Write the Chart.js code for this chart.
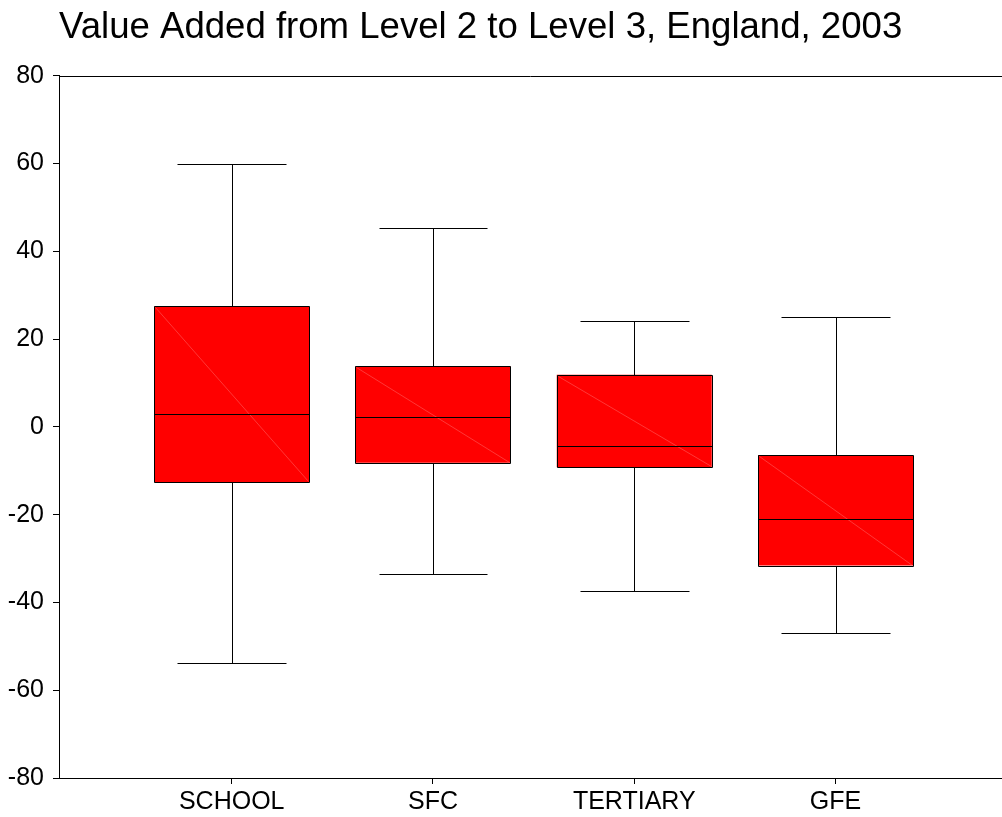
<!DOCTYPE html>
<html>
<head>
<meta charset="utf-8">
<title>Value Added from Level 2 to Level 3, England, 2003</title>
<script src="https://cdn.jsdelivr.net/npm/chart.js@4/dist/chart.umd.min.js"></script>
<style>
  html, body { margin: 0; padding: 0; background: #ffffff; }
  #wrap { width: 1002px; height: 817px; }
</style>
</head>
<body>
<div id="wrap"><canvas id="chart" width="1002" height="817"></canvas></div>
<script>
// Institution types along the x axis
const categories = ['SCHOOL', 'SFC', 'TERTIARY', 'GFE'];
// Box-plot summary per institution type
const whiskerLow  = [-53.7, -33.5, -37.4, -47.0];
const quartile1   = [-12.6,  -8.2,  -9.2, -31.6];
const medians     = [  2.9,   2.2,  -4.4, -21.1];
const quartile3   = [ 27.5,  13.8,  11.9,  -6.4];
const whiskerHigh = [ 60.0,  45.2,  24.1,  25.1];
// Value axis ticks
const yTicks = [-80, -60, -40, -20, 0, 20, 40, 60, 80];

const FONT = 'Liberation Sans, Arial, sans-serif';
const positions = categories.map((_, i) => i + 1);
const px = v => Math.round(v) + 0.5;

// Box outlines, whiskers, caps, medians and the faint diagonal across each box
const boxExtras = {
  id: 'boxExtras',
  afterDatasetsDraw(chart) {
    const { ctx, scales: { x, y }, chartArea } = chart;
    const capHalf = 0.27;
    const boxHalf = 0.385;
    ctx.save();
    // top frame line at the axis maximum
    ctx.strokeStyle = '#000';
    ctx.lineWidth = 1;
    ctx.beginPath();
    ctx.moveTo(chartArea.left, px(chartArea.top));
    ctx.lineTo(chartArea.right, px(chartArea.top));
    ctx.stroke();

    positions.forEach((p, i) => {
      const cx = px(x.getPixelForValue(p));
      const yLo = px(y.getPixelForValue(whiskerLow[i]));
      const yHi = px(y.getPixelForValue(whiskerHigh[i]));
      const yQ1 = px(y.getPixelForValue(quartile1[i]));
      const yQ3 = px(y.getPixelForValue(quartile3[i]));
      const yMed = px(y.getPixelForValue(medians[i]));
      const cL = px(x.getPixelForValue(p - capHalf));
      const cR = px(x.getPixelForValue(p + capHalf));
      const bL = px(x.getPixelForValue(p - boxHalf));
      const bR = px(x.getPixelForValue(p + boxHalf));

      // faint diagonal inside the box
      ctx.strokeStyle = 'rgba(255,170,170,0.55)';
      ctx.lineWidth = 0.6;
      ctx.beginPath();
      ctx.moveTo(bL + 1, yQ3 + 1);
      ctx.lineTo(bR - 1, yQ1 - 1);
      ctx.stroke();

      ctx.strokeStyle = '#000';
      ctx.lineWidth = 1;
      ctx.beginPath();
      // box outline
      ctx.rect(bL, yQ3, bR - bL, yQ1 - yQ3);
      // upper whisker and cap
      ctx.moveTo(cx, yQ3);
      ctx.lineTo(cx, yHi);
      ctx.moveTo(cL, yHi);
      ctx.lineTo(cR, yHi);
      // lower whisker and cap
      ctx.moveTo(cx, yQ1);
      ctx.lineTo(cx, yLo);
      ctx.moveTo(cL, yLo);
      ctx.lineTo(cR, yLo);
      // median
      ctx.moveTo(bL, yMed);
      ctx.lineTo(bR, yMed);
      ctx.stroke();
    });
    ctx.restore();
  }
};

new Chart(document.getElementById('chart'), {
  type: 'bar',
  data: {
    datasets: [{
      label: 'Interquartile range',
      data: positions.map((p, i) => ({ x: p, y: [quartile1[i], quartile3[i]] })),
      backgroundColor: '#ff0000',
      borderWidth: 0,
      borderSkipped: false,
      categoryPercentage: 1,
      barPercentage: 0.77
    }]
  },
  options: {
    responsive: false,
    animation: false,
    devicePixelRatio: 1,
    layout: { padding: { left: 0, right: 0, top: 0, bottom: 0 } },
    plugins: {
      legend: { display: false },
      tooltip: { enabled: false },
      title: {
        display: true,
        text: 'Value Added from Level 2 to Level 3, England, 2003',
        align: 'start',
        fullSize: false,
        color: '#000',
        font: { family: FONT, size: 36.6, weight: 'normal', lineHeight: 1.2 },
        padding: { top: 5.8, bottom: 26 }
      }
    },
    scales: {
      x: {
        type: 'linear',
        min: 0.142,
        max: 4.827,
        offset: false,
        afterBuildTicks(scale) { scale.ticks = positions.map(v => ({ value: v })); },
        afterFit(scale) { scale.height = 39; },
        ticks: {
          autoSkip: false,
          maxRotation: 0,
          padding: 3,
          color: '#000',
          font: { family: FONT, size: 25 },
          callback: (v) => categories[Math.round(v) - 1] ?? ''
        },
        grid: { offset: false, drawOnChartArea: false, drawTicks: true, tickLength: 6, color: '#000', lineWidth: 1 },
        border: { display: true, color: '#000', width: 1 }
      },
      y: {
        min: -80,
        max: 80,
        afterBuildTicks(scale) { scale.ticks = yTicks.map(v => ({ value: v })); },
        afterFit(scale) { scale.width = 59; },
        ticks: {
          padding: 9,
          color: '#000',
          font: { family: FONT, size: 25 }
        },
        grid: { offset: false, drawOnChartArea: false, drawTicks: true, tickLength: 6, color: '#000', lineWidth: 1 },
        border: { display: true, color: '#000', width: 1 }
      }
    }
  },
  plugins: [boxExtras]
});
</script>
</body>
</html>
